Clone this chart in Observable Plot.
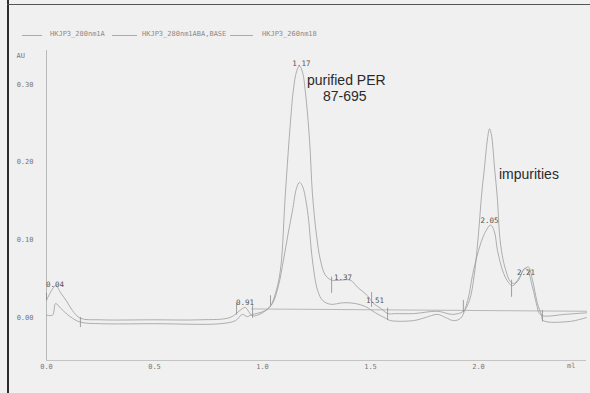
<!DOCTYPE html>
<html>
<head>
<meta charset="utf-8">
<script src="https://cdn.jsdelivr.net/npm/d3@7"></script>
<script src="https://cdn.jsdelivr.net/npm/@observablehq/plot@0.6"></script>
<style>
  html, body { margin: 0; padding: 0; background: #f0f0f0; }
  #wrap { position: relative; width: 590px; height: 393px; overflow: hidden; background: #f0f0f0; }
  #wrap svg { position: absolute; left: 0; top: 0; }
  .bl { position: absolute; left: 7px; top: 0; width: 2px; height: 393px; background: #2b2b2b; }
  .bt { position: absolute; left: 7px; top: 4px; width: 583px; height: 1px; background: #555; }
  .leg { position: absolute; top: 30px; font-family: "DejaVu Sans Mono", monospace; font-size: 7px; color: #8a8a8a; white-space: nowrap; }
  .sw { position: absolute; top: 35px; height: 1px; background: #aaa; }
  .ann { position: absolute; font-family: "Liberation Sans", Arial, sans-serif; font-size: 14px; color: #2a2a2a; white-space: nowrap; }
</style>
</head>
<body>
<div id="wrap">
  <div class="bl"></div>
  <div class="bt"></div>
</div>
<script>
// ---- data ----
const seriesNames = ["HKJP3_280nm1A", "HKJP3_280nm1ABA,BASE", "HKJP3_260nm18"];

// 280 nm trace (taller)
const aX = [0.0, 0.042, 0.065, 0.093, 0.12, 0.157, 0.25, 0.5, 0.71, 0.85, 0.90, 0.92, 0.94, 0.954, 1.0, 1.037, 1.06, 1.083, 1.106, 1.13, 1.143, 1.157, 1.171, 1.185, 1.199, 1.218, 1.231, 1.25, 1.268, 1.29, 1.32, 1.36, 1.407, 1.44, 1.486, 1.514, 1.546, 1.58, 1.616, 1.70, 1.81, 1.88, 1.93, 1.958, 1.98, 2.0, 2.014, 2.028, 2.042, 2.051, 2.06, 2.074, 2.088, 2.097, 2.11, 2.125, 2.148, 2.167, 2.19, 2.213, 2.227, 2.25, 2.268, 2.282, 2.30, 2.40, 2.5];
const aY = [0.022, 0.041, 0.032, 0.021, 0.009, -0.001, -0.003, -0.003, -0.003, 0.0, 0.010, 0.013, 0.006, 0.002, 0.006, 0.015, 0.031, 0.061, 0.16, 0.254, 0.293, 0.316, 0.324, 0.316, 0.289, 0.228, 0.16, 0.106, 0.074, 0.055, 0.048, 0.048, 0.048, 0.039, 0.028, 0.018, 0.012, 0.005, 0.005, 0.005, 0.008, 0.004, 0.008, 0.022, 0.054, 0.108, 0.157, 0.194, 0.231, 0.243, 0.235, 0.194, 0.151, 0.108, 0.08, 0.062, 0.046, 0.044, 0.052, 0.063, 0.061, 0.039, 0.018, 0.005, 0.002, 0.004, 0.006];

// 260 nm trace (lower)
const bX = [0.0, 0.028, 0.042, 0.065, 0.11, 0.157, 0.25, 0.5, 0.806, 0.875, 0.907, 0.93, 0.944, 1.014, 1.046, 1.074, 1.097, 1.12, 1.139, 1.157, 1.171, 1.185, 1.208, 1.231, 1.255, 1.278, 1.315, 1.375, 1.43, 1.477, 1.523, 1.57, 1.593, 1.70, 1.755, 1.81, 1.847, 1.884, 1.917, 1.95, 1.972, 2.0, 2.028, 2.056, 2.074, 2.088, 2.116, 2.139, 2.157, 2.185, 2.208, 2.231, 2.25, 2.273, 2.292, 2.30, 2.426, 2.5];
const bY = [0.003, 0.003, 0.018, 0.012, 0.001, -0.006, -0.008, -0.008, -0.008, -0.004, 0.004, 0.001, 0.003, 0.009, 0.018, 0.041, 0.074, 0.11, 0.138, 0.166, 0.174, 0.169, 0.138, 0.074, 0.035, 0.022, 0.017, 0.019, 0.018, 0.014, 0.006, -0.001, -0.004, -0.004, 0.0, 0.004, 0.0, -0.004, -0.001, 0.022, 0.054, 0.086, 0.108, 0.119, 0.11, 0.086, 0.057, 0.045, 0.041, 0.048, 0.061, 0.065, 0.048, 0.018, 0.003, -0.004, -0.005, 0.0];

// baseline trace
const baseX = [0.95, 2.5];
const baseY = [0.011, 0.008];

// peak labels (retention, label height)
const peakX = [0.04, 0.91, 1.17, 1.37, 1.51, 2.05, 2.21];
const peakLabelX = [0.039, 0.919, 1.18, 1.373, 1.521, 2.051, 2.22];
const peakLabelY = [0.0425, 0.0193, 0.327, 0.0515, 0.0219, 0.125, 0.058];

// peak window markers
const markX = [0.0, 0.157, 0.88, 0.954, 1.037, 1.32, 1.505, 1.579, 1.93, 2.153, 2.296];
const markY1 = [0.022, -0.013, 0.003, -0.001, 0.015, 0.031, 0.013, -0.004, 0.006, 0.026, -0.006];
const markY2 = [0.031, 0.0, 0.018, 0.015, 0.028, 0.052, 0.032, 0.012, 0.022, 0.048, 0.009];

const xTicks = [0, 0.5, 1.0, 1.5, 2.0];
const yTicks = [0, 0.1, 0.2, 0.3];

// ---- build tables ----
const A = aX.map((x, i) => ({x, y: aY[i]}));
const B = bX.map((x, i) => ({x, y: bY[i]}));
const BASE = baseX.map((x, i) => ({x, y: baseY[i]}));
const peaks = peakX.map((v, i) => ({x: peakLabelX[i], y: peakLabelY[i], t: v.toFixed(2)}));
const marks = markX.map((x, i) => ({x, y1: markY1[i], y2: markY2[i]}));

const yMin = -0.0554, yMax = 0.3438;
const lineColor = "#9c9c9c";

const chart = Plot.plot({
  width: 590,
  height: 393,
  marginLeft: 46,
  marginRight: 4,
  marginTop: 50,
  marginBottom: 33,
  x: {domain: [0, 2.5]},
  y: {domain: [yMin, yMax]},
  style: {background: "transparent", fontFamily: "DejaVu Sans Mono, monospace", fontSize: "7px", color: "#777"},
  marks: [
    Plot.axisX({ticks: xTicks, tickSize: 0, tickPadding: 4, tickFormat: d => d.toFixed(1), label: null, fill: "#777"}),
    Plot.axisY({ticks: yTicks, tickSize: 0, tickPadding: 13, tickFormat: d => d.toFixed(2), label: null, fill: "#777"}),
    Plot.ruleX([0], {stroke: "#b8b8b8", strokeWidth: 1}),
    Plot.ruleY([yMin], {stroke: "#c4c4c4", strokeWidth: 1}),
    Plot.text(["AU"], {frameAnchor: "top-left", dx: -30, dy: 3, fill: "#777", textAnchor: "start"}),
    Plot.text(["ml"], {frameAnchor: "bottom-right", dx: -11, dy: 7, fill: "#777"}),
    Plot.line(BASE, {x: "x", y: "y", stroke: "#a8a8a8", strokeWidth: 0.8}),
    Plot.line(B, {x: "x", y: "y", stroke: lineColor, strokeWidth: 0.8, curve: "catmull-rom"}),
    Plot.line(A, {x: "x", y: "y", stroke: lineColor, strokeWidth: 0.8, curve: "catmull-rom"}),
    Plot.ruleX(marks, {x: "x", y1: "y1", y2: "y2", stroke: "#8a8a8a", strokeWidth: 0.8}),
    Plot.text(peaks, {x: "x", y: "y", text: "t", fill: "#555", fontSize: 7.5})
  ]
});
const wrap = document.getElementById("wrap");
wrap.appendChild(chart);

// legend
const legPos = [[22, 42, 50], [112, 137, 142], [230, 253, 262]];
seriesNames.forEach((n, i) => {
  const sw = document.createElement("div");
  sw.className = "sw";
  sw.style.left = legPos[i][0] + "px";
  sw.style.width = (legPos[i][1] - legPos[i][0]) + "px";
  wrap.appendChild(sw);
  const t = document.createElement("div");
  t.className = "leg";
  t.style.left = legPos[i][2] + "px";
  t.textContent = n;
  wrap.appendChild(t);
});

// annotations
const anns = [["purified PER", 307, 72], ["87-695", 323, 88], ["impurities", 499, 166]];
anns.forEach(([s, l, t]) => {
  const d = document.createElement("div");
  d.className = "ann";
  d.style.left = l + "px";
  d.style.top = t + "px";
  d.textContent = s;
  wrap.appendChild(d);
});
</script>
</body>
</html>
